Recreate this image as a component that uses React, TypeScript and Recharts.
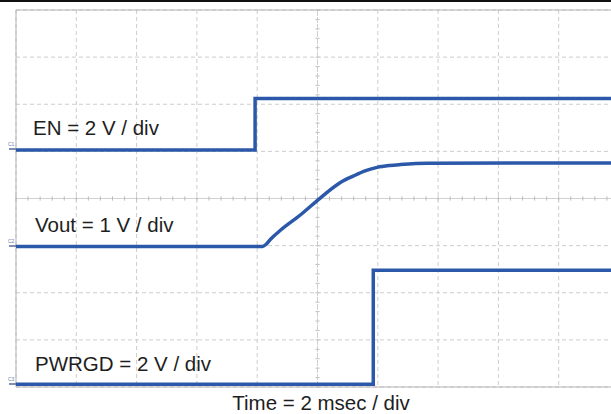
import { LineChart, Line, XAxis, YAxis, CartesianGrid, ReferenceLine } from 'recharts'

// time axis in ms (2 ms / div), level axis in screen divisions (8 div tall, centre = 0)
const timeTicks = [0, 2, 4, 6, 8, 10, 12, 14, 16, 18, 20]
const levelTicks = [-4, -3, -2, -1, 0, 1, 2, 3, 4]

const enTime = [0, 7.93, 7.93, 20]
const enLevel = [1.03, 1.03, 2.12, 2.12]

const voutTime = [0, 8.17, 8.3, 8.45, 8.76, 9.43, 10.09, 10.76, 11.2, 11.6, 11.98, 12.4, 12.75, 13.64, 20]
const voutLevel = [-1.02, -1.02, -0.97, -0.86, -0.68, -0.35, 0.01, 0.34, 0.48, 0.59, 0.66, 0.7, 0.72, 0.75, 0.755]

const pgTime = [0, 11.85, 11.85, 20]
const pgLevel = [-3.94, -3.94, -1.52, -1.52]

const traceLabels = ['EN = 2 V / div', 'Vout = 1 V / div', 'PWRGD = 2 V / div']
const channelNames = ['C1', 'C2', 'C3']
const timeLabel = 'Time = 2 msec / div'

const toPoints = (t: number[], v: number[]) => t.map((x, i) => ({ t: x, v: v[i] }))

const enData = toPoints(enTime, enLevel)
const voutData = toPoints(voutTime, voutLevel)
const pgData = toPoints(pgTime, pgLevel)

// minor tick marks on the centre cross (5 per division)
const minorT = Array.from({ length: 51 }, (_, i) => i * 0.4)
const minorL = Array.from({ length: 41 }, (_, i) => -4 + i * 0.2)

const TRACE = '#2b58a8'
const GRID = '#cdcdcd'
const FONT = '"Liberation Sans", Arial, sans-serif'

export default function App() {
  return (
    <div
      style={{
        position: 'fixed',
        top: 0,
        left: 0,
        width: 611,
        height: 414,
        overflow: 'hidden',
        background: '#fff',
      }}
    >
      <div style={{ position: 'absolute', top: 0, left: 0, width: 611, height: 2, background: '#111' }} />
      <LineChart width={621} height={414} margin={{ top: 10, right: 2, bottom: 27, left: 16 }}>
        <XAxis dataKey="t" type="number" domain={[0, 20]} ticks={timeTicks} hide />
        <YAxis type="number" domain={[-4, 4]} ticks={levelTicks} hide />
        <CartesianGrid stroke={GRID} strokeDasharray="4 3" />
        <ReferenceLine x={10} stroke="#d0d0d0" strokeDasharray="4 3" />
        <ReferenceLine y={0} stroke="#d0d0d0" />
        {minorT.map(t => (
          <ReferenceLine
            key={'mt' + t}
            stroke="#bcbcbc"
            segment={[
              { x: t, y: -0.045 },
              { x: t, y: 0.045 },
            ]}
          />
        ))}
        {minorL.map(l => (
          <ReferenceLine
            key={'ml' + l}
            stroke="#c4c4c4"
            segment={[
              { x: 9.93, y: l },
              { x: 10.07, y: l },
            ]}
          />
        ))}
        <ReferenceLine x={0} stroke="#b4b4b4" />
        <ReferenceLine y={4} stroke="#b4b4b4" />
        <ReferenceLine y={-4} stroke="#b4b4b4" />
        <Line data={enData} dataKey="v" stroke={TRACE} strokeWidth={3.5} dot={false} isAnimationActive={false} />
        <Line
          data={voutData}
          dataKey="v"
          type="monotone"
          stroke={TRACE}
          strokeWidth={3.5}
          dot={false}
          isAnimationActive={false}
        />
        <Line data={pgData} dataKey="v" stroke={TRACE} strokeWidth={3.5} dot={false} isAnimationActive={false} />
      </LineChart>
      <svg
        width={611}
        height={414}
        style={{ position: 'absolute', top: 0, left: 0, pointerEvents: 'none' }}
        fontFamily={FONT}
      >
        <text x={33} y={135} fontSize={20.5} fill="#1e1e1e">{traceLabels[0]}</text>
        <text x={35} y={232} fontSize={20.5} fill="#1e1e1e">{traceLabels[1]}</text>
        <text x={35} y={371} fontSize={20.5} fill="#1e1e1e">{traceLabels[2]}</text>
        <text x={321} y={410} fontSize={20.5} fill="#1e1e1e" textAnchor="middle">{timeLabel}</text>
        {[149, 246, 384].map((y, i) => (
          <g key={channelNames[i]}>
            <text x={8} y={y - 3} fontSize={5} fill="#7080a8">{channelNames[i]}</text>
            <line x1={9} x2={16} y1={y} y2={y} stroke="#5a6a98" strokeWidth={1.5} />
          </g>
        ))}
      </svg>
    </div>
  )
}
